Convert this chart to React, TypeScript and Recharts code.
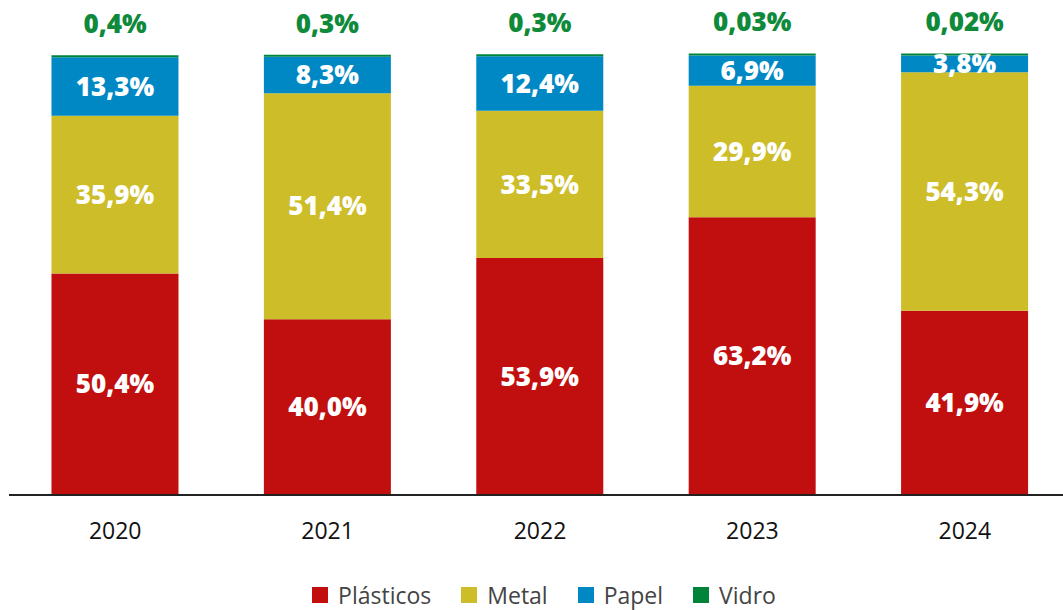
import { BarChart, Bar, XAxis, YAxis, LabelList, Legend } from 'recharts';

const years = ['2020', '2021', '2022', '2023', '2024'];
const plasticos = [50.4, 40.0, 53.9, 63.2, 41.9];
const metal = [35.9, 51.4, 33.5, 29.9, 54.3];
const papel = [13.3, 8.3, 12.4, 6.9, 3.8];
const vidro = [0.4, 0.3, 0.3, 0.03, 0.02];
const vidroLabels = ['0,4%', '0,3%', '0,3%', '0,03%', '0,02%'];

const series = [
  { key: 'plasticos', name: 'Plásticos', color: '#C10F10' },
  { key: 'metal', name: 'Metal', color: '#CDBD29' },
  { key: 'papel', name: 'Papel', color: '#0088C5' },
  { key: 'vidro', name: 'Vidro', color: '#00843B' },
];

const data = years.map((year, i) => ({
  year,
  plasticos: plasticos[i],
  metal: metal[i],
  papel: papel[i],
  vidro: vidro[i],
  vidroLabel: vidroLabels[i],
}));

const fmt = (v: any) => `${Number(v).toFixed(1).replace('.', ',')}%`;
const FONT = "'Open Sans', sans-serif";

const LegendContent = () => (
  <div
    style={{
      display: 'flex',
      justifyContent: 'center',
      alignItems: 'center',
      gap: 30,
      fontFamily: FONT,
      fontSize: 23,
      lineHeight: '26px',
      height: 28,
      color: '#444',
      paddingLeft: 8,
    }}
  >
    {series.map((s) => (
      <div key={s.key} style={{ display: 'flex', alignItems: 'center', gap: 10 }}>
        <span style={{ width: 16, height: 16, background: s.color, display: 'inline-block' }} />
        <span>{s.name}</span>
      </div>
    ))}
  </div>
);

export default function App() {
  return (
    <div style={{ position: 'absolute', left: 0, top: 0, width: 1063, height: 610, background: '#fff', overflow: 'hidden' }}>
      <BarChart
        width={1071}
        height={610}
        data={data}
        margin={{ top: 55, right: 0, left: 9, bottom: 0 }}
        barCategoryGap="20%"
      >
        <XAxis
          dataKey="year"
          tickLine={false}
          axisLine={{ stroke: '#222', strokeWidth: 2 }}
          tick={{ fontSize: 23, fill: '#111', fontFamily: FONT }}
          tickMargin={22}
          height={86}
        />
        <YAxis hide domain={[0, 100]} />
        <Legend verticalAlign="bottom" height={29} content={<LegendContent />} />
        {series.slice(0, 3).map((s) => (
          <Bar key={s.key} dataKey={s.key} name={s.name} stackId="a" fill={s.color} isAnimationActive={false}>
            <LabelList
              dataKey={s.key}
              position="center"
              formatter={fmt}
              style={{ fill: '#fff', fontSize: 26, fontWeight: 800, fontFamily: FONT }}
            />
          </Bar>
        ))}
        <Bar dataKey="vidro" name="Vidro" stackId="a" fill="#00843B" minPointSize={2} isAnimationActive={false}>
          <LabelList
            dataKey="vidroLabel"
            position="top"
            offset={22}
            style={{ fill: '#0E8A3A', fontSize: 26, fontWeight: 800, fontFamily: FONT }}
          />
        </Bar>
      </BarChart>
    </div>
  );
}
